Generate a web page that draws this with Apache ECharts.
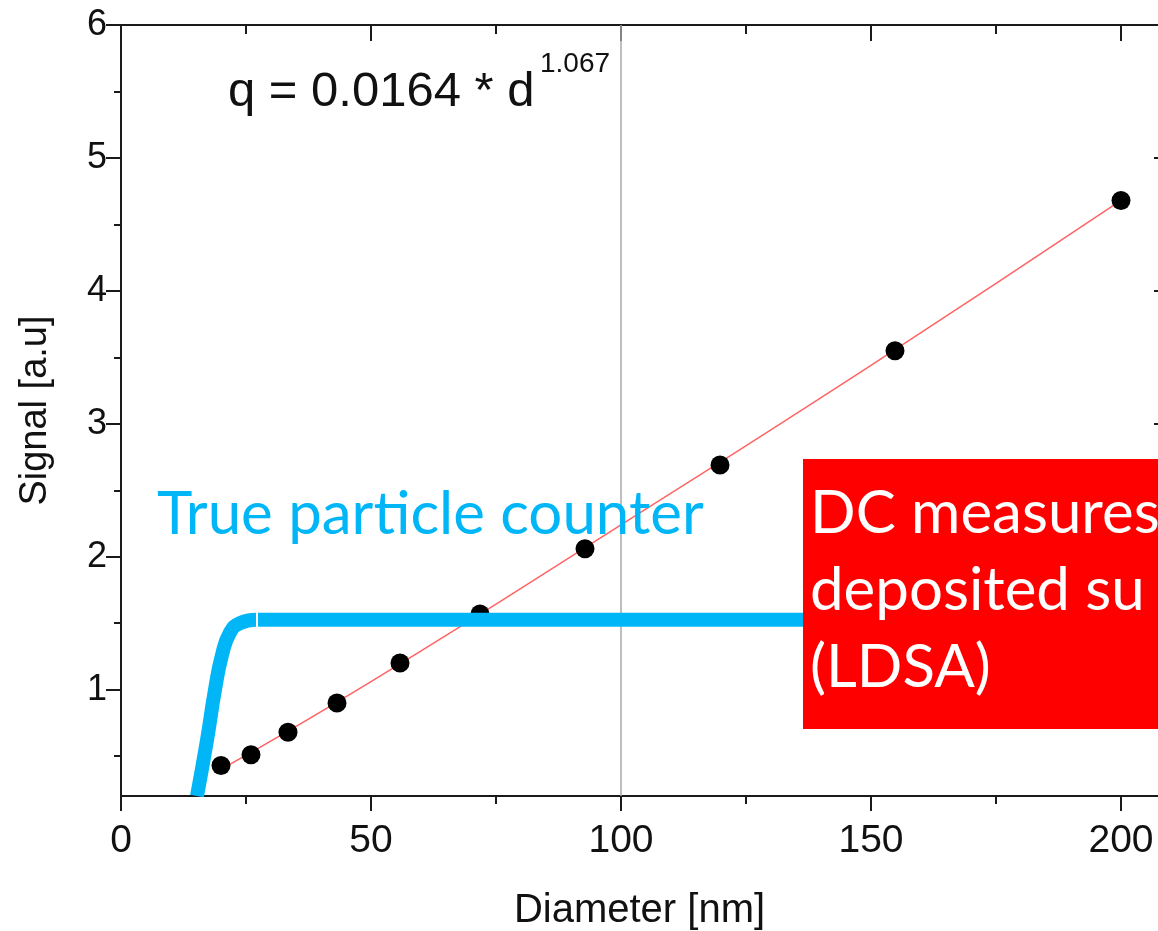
<!DOCTYPE html>
<html>
<head>
<meta charset="utf-8">
<script src="https://cdn.jsdelivr.net/npm/echarts@6/dist/echarts.min.js"></script>
<style>
html,body{margin:0;padding:0;background:#fff}
#main{width:1158px;height:931px}
</style>
</head>
<body>
<div id="main"></div>
<script>
// measured points
var diameters = [20, 26, 33.4, 43.2, 55.8, 71.8, 92.8, 119.8, 154.8, 200];
var signals = [0.43, 0.51, 0.68, 0.90, 1.20, 1.57, 2.06, 2.69, 3.55, 4.68];
// fit line q = 0.0164 * d^1.067
var fitX = [20, 50, 100, 150, 200];
var fitY = [0.40, 1.06, 2.24, 3.44, 4.68];
// true particle counter curve
var counterX = [15.2, 17.2, 18.8, 20.2, 21.8, 23.8, 27.0];
var counterY = [0.2, 0.62, 1.0, 1.26, 1.43, 1.50, 1.525];
var plateauX = [27.4, 140];
var plateauY = [1.525, 1.525];
// ticks
var xTicks = [0, 50, 100, 150, 200];
var xMinorTicks = [25, 75, 125, 175];
var yTicks = [1, 2, 3, 4, 5, 6];
var yMinorTicks = [0.5, 1.5, 2.5, 3.5, 4.5, 5.5];

var axisColor = '#1a1a1a';
var blue = '#00B6F6';
var xMax = 207.4;

function pairs(xs, ys) {
    return xs.map(function (x, i) { return [x, ys[i]]; });
}

function tickAxis(pos, min, max, ticks, len, inside, showLine) {
    return {
        type: 'value', position: pos, min: min, max: max,
        axisLine: {show: showLine, onZero: false, lineStyle: {color: axisColor, width: 2}},
        axisTick: {show: true, inside: inside, length: len, customValues: ticks,
            lineStyle: {color: axisColor, width: 2}},
        axisLabel: {show: false},
        splitLine: {show: false}
    };
}

var myChart = echarts.init(document.getElementById('main'));

var xMain = tickAxis('bottom', 0, xMax, xTicks, 15, false, true);
xMain.axisLabel = {show: true, customValues: xTicks, margin: 26, color: '#111',
    fontFamily: 'Liberation Sans', fontSize: 39};
xMain.name = 'Diameter [nm]';
xMain.nameLocation = 'middle';
xMain.nameGap = 95;
xMain.nameTextStyle = {color: '#111', fontFamily: 'Liberation Sans', fontSize: 40};

var yMain = tickAxis('left', 0.2, 6, yTicks, 15, false, true);
yMain.axisLabel = {show: true, customValues: yTicks, margin: 14, color: '#111',
    fontFamily: 'Liberation Sans', fontSize: 36};
yMain.name = 'Signal [a.u]';
yMain.nameLocation = 'middle';
yMain.nameGap = 66;
yMain.nameTextStyle = {color: '#111', fontFamily: 'Liberation Sans', fontSize: 38};

var option = {
    animation: false,
    backgroundColor: '#fff',
    grid: {left: 121, top: 25, right: 0, bottom: 135, containLabel: false,
        outerBoundsMode: 'none'},
    xAxis: [
        xMain,
        tickAxis('bottom', 0, xMax, xMinorTicks, 8, false, false),
        tickAxis('top', 0, xMax, xTicks, 16, true, true),
        tickAxis('top', 0, xMax, xMinorTicks, 9, true, false)
    ],
    yAxis: [
        yMain,
        tickAxis('left', 0.2, 6, yMinorTicks, 7, false, false),
        tickAxis('right', 0.2, 6, yTicks, 4, true, false)
    ],
    series: [
        {
            type: 'line', name: 'fit', data: pairs(fitX, fitY), smooth: true,
            showSymbol: false, symbol: 'none',
            lineStyle: {color: '#ff6464', width: 1.5},
            markLine: {
                silent: true, symbol: 'none', label: {show: false},
                lineStyle: {color: '#a8a8a8', width: 1.5, type: 'solid'},
                data: [{xAxis: 100}]
            },
            z: 3
        },
        {
            type: 'scatter', name: 'data', data: pairs(diameters, signals),
            symbol: 'circle', symbolSize: 19,
            itemStyle: {color: '#000', opacity: 1}, z: 4
        },
        {
            type: 'line', name: 'counter', data: pairs(counterX, counterY), smooth: true,
            showSymbol: false, symbol: 'none',
            lineStyle: {color: blue, width: 14, cap: 'butt'}, z: 5
        },
        {
            type: 'line', name: 'plateau', data: pairs(plateauX, plateauY),
            showSymbol: false, symbol: 'none',
            lineStyle: {color: blue, width: 14, cap: 'butt'}, z: 5
        }
    ],
    graphic: [
        {type: 'text', left: 228, top: 68, z: 100,
            style: {text: 'q = 0.0164 * d', fill: '#111', font: '49px "Liberation Sans"'}},
        {type: 'text', left: 540, top: 50, z: 100,
            style: {text: '1.067', fill: '#111', font: '28px "Liberation Sans"'}},
        {type: 'text', left: 157, top: 485, z: 100,
            style: {text: 'True particle counter', fill: blue, font: '60px Lato'}},
        {type: 'rect', left: 803, top: 459, z: 100,
            shape: {width: 400, height: 270}, style: {fill: '#ff0000'}},
        {type: 'text', left: 810, top: 484, z: 101,
            style: {text: 'DC measures', fill: '#fff', font: '60px Lato'}},
        {type: 'text', left: 810, top: 561, z: 101,
            style: {text: 'deposited su', fill: '#fff', font: '60px Lato'}},
        {type: 'text', left: 810, top: 638, z: 101,
            style: {text: '(LDSA)', fill: '#fff', font: '60px Lato'}}
    ]
};

myChart.setOption(option);
</script>
</body>
</html>
